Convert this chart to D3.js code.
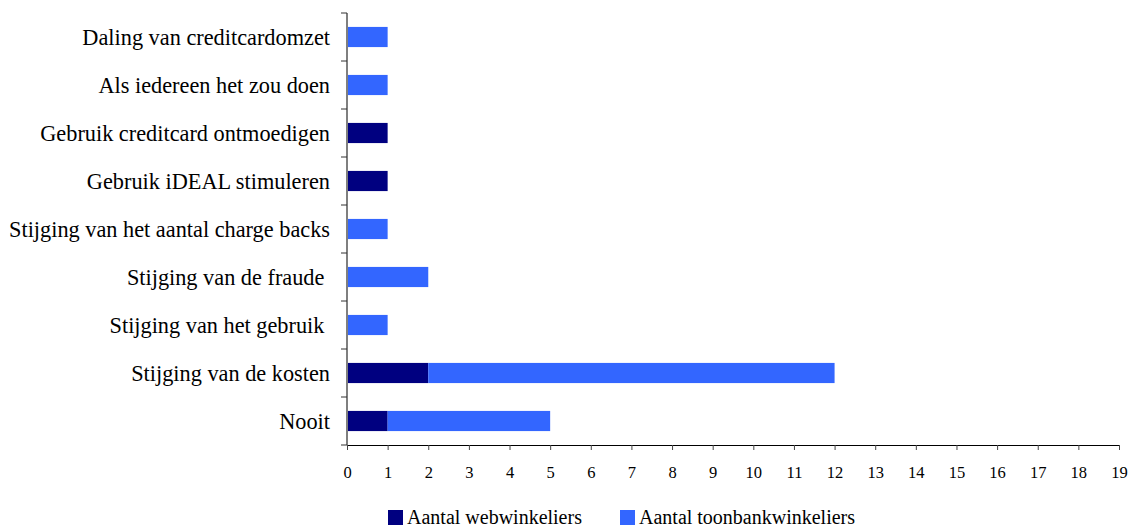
<!DOCTYPE html>
<html>
<head>
<meta charset="utf-8">
<script src="https://cdn.jsdelivr.net/npm/d3@7/dist/d3.min.js"></script>
<style>
  html, body { margin: 0; padding: 0; background: #fff; }
  svg { display: block; }
  text { font-family: "Liberation Serif", "Times New Roman", serif; fill: #000; }
</style>
</head>
<body>
<svg id="chart" width="1130" height="526"></svg>
<script>
// Reasons (top to bottom)
const categories = [
  "Daling van creditcardomzet",
  "Als iedereen het zou doen",
  "Gebruik creditcard ontmoedigen",
  "Gebruik iDEAL stimuleren",
  "Stijging van het aantal charge backs",
  "Stijging van de fraude ",
  "Stijging van het gebruik ",
  "Stijging van de kosten",
  "Nooit"
];
const webwinkeliers      = [0, 0, 1, 1, 0, 0, 0, 2, 1];
const toonbankwinkeliers = [1, 1, 0, 0, 1, 2, 1, 10, 4];
const seriesNames = ["Aantal webwinkeliers", "Aantal toonbankwinkeliers"];
const seriesColors = ["#000080", "#3366FF"];
const xTicks = d3.range(0, 20);

const svg = d3.select("#chart");
const plotLeft = 347, plotRight = 1119, plotTop = 13, plotBottom = 445;

const x = d3.scaleLinear().domain([0, 19]).range([plotLeft, plotRight]);
const y = d3.scaleBand().domain(categories).range([plotTop, plotBottom]).paddingInner(0.58).paddingOuter(0.29);

const rows = categories.map((c, i) => ({ cat: c, web: webwinkeliers[i], toon: toonbankwinkeliers[i] }));
const stack = d3.stack().keys(["web", "toon"])(rows);

svg.append("g").selectAll("g")
  .data(stack)
  .join("g")
  .attr("fill", (d, i) => seriesColors[i])
  .selectAll("rect")
  .data(d => d.filter(s => s[1] > s[0]))
  .join("rect")
  .attr("x", d => x(d[0]))
  .attr("width", d => x(d[1]) - x(d[0]))
  .attr("y", d => y(d.data.cat))
  .attr("height", y.bandwidth());

// Category axis: tick marks on band boundaries
const yAxis = svg.append("g");
yAxis.append("line")
  .attr("x1", plotLeft).attr("x2", plotLeft)
  .attr("y1", plotTop).attr("y2", plotBottom)
  .attr("stroke", "#7f7f7f").attr("stroke-width", 2);
const step = (plotBottom - plotTop) / categories.length;
yAxis.selectAll("line.tick")
  .data(d3.range(categories.length + 1))
  .join("line")
  .attr("class", "tick")
  .attr("x1", plotLeft - 6).attr("x2", plotLeft)
  .attr("y1", i => plotTop + i * step).attr("y2", i => plotTop + i * step)
  .attr("stroke", "#333").attr("stroke-width", 1);
yAxis.selectAll("text")
  .data(categories)
  .join("text")
  .attr("x", 330)
  .attr("y", d => y(d) + y.bandwidth() / 2)
  .attr("dy", "0.35em")
  .attr("text-anchor", "end")
  .style("font-size", "22.3px")
  .style("white-space", "pre")
  .text(d => d);

// Value axis
const xAxis = svg.append("g")
  .attr("transform", `translate(0,${plotBottom})`)
  .call(d3.axisBottom(x).tickValues(xTicks).tickSize(5).tickPadding(16).tickFormat(d3.format("d")));
xAxis.select(".domain").attr("stroke", "#000").attr("stroke-width", 1);
xAxis.selectAll(".tick line").attr("stroke", "#444");
xAxis.selectAll(".tick text")
  .style("font-family", "'Liberation Serif', 'Times New Roman', serif")
  .style("font-size", "16.5px").attr("fill", "#000");

// Legend
const legendX = [388, 620];
const legend = svg.append("g");
seriesNames.forEach((name, i) => {
  legend.append("rect")
    .attr("x", legendX[i]).attr("y", 510)
    .attr("width", 15).attr("height", 15)
    .attr("fill", seriesColors[i]);
  legend.append("text")
    .attr("x", legendX[i] + 19).attr("y", 524)
    .style("font-size", "20px")
    .text(name);
});
</script>
</body>
</html>
